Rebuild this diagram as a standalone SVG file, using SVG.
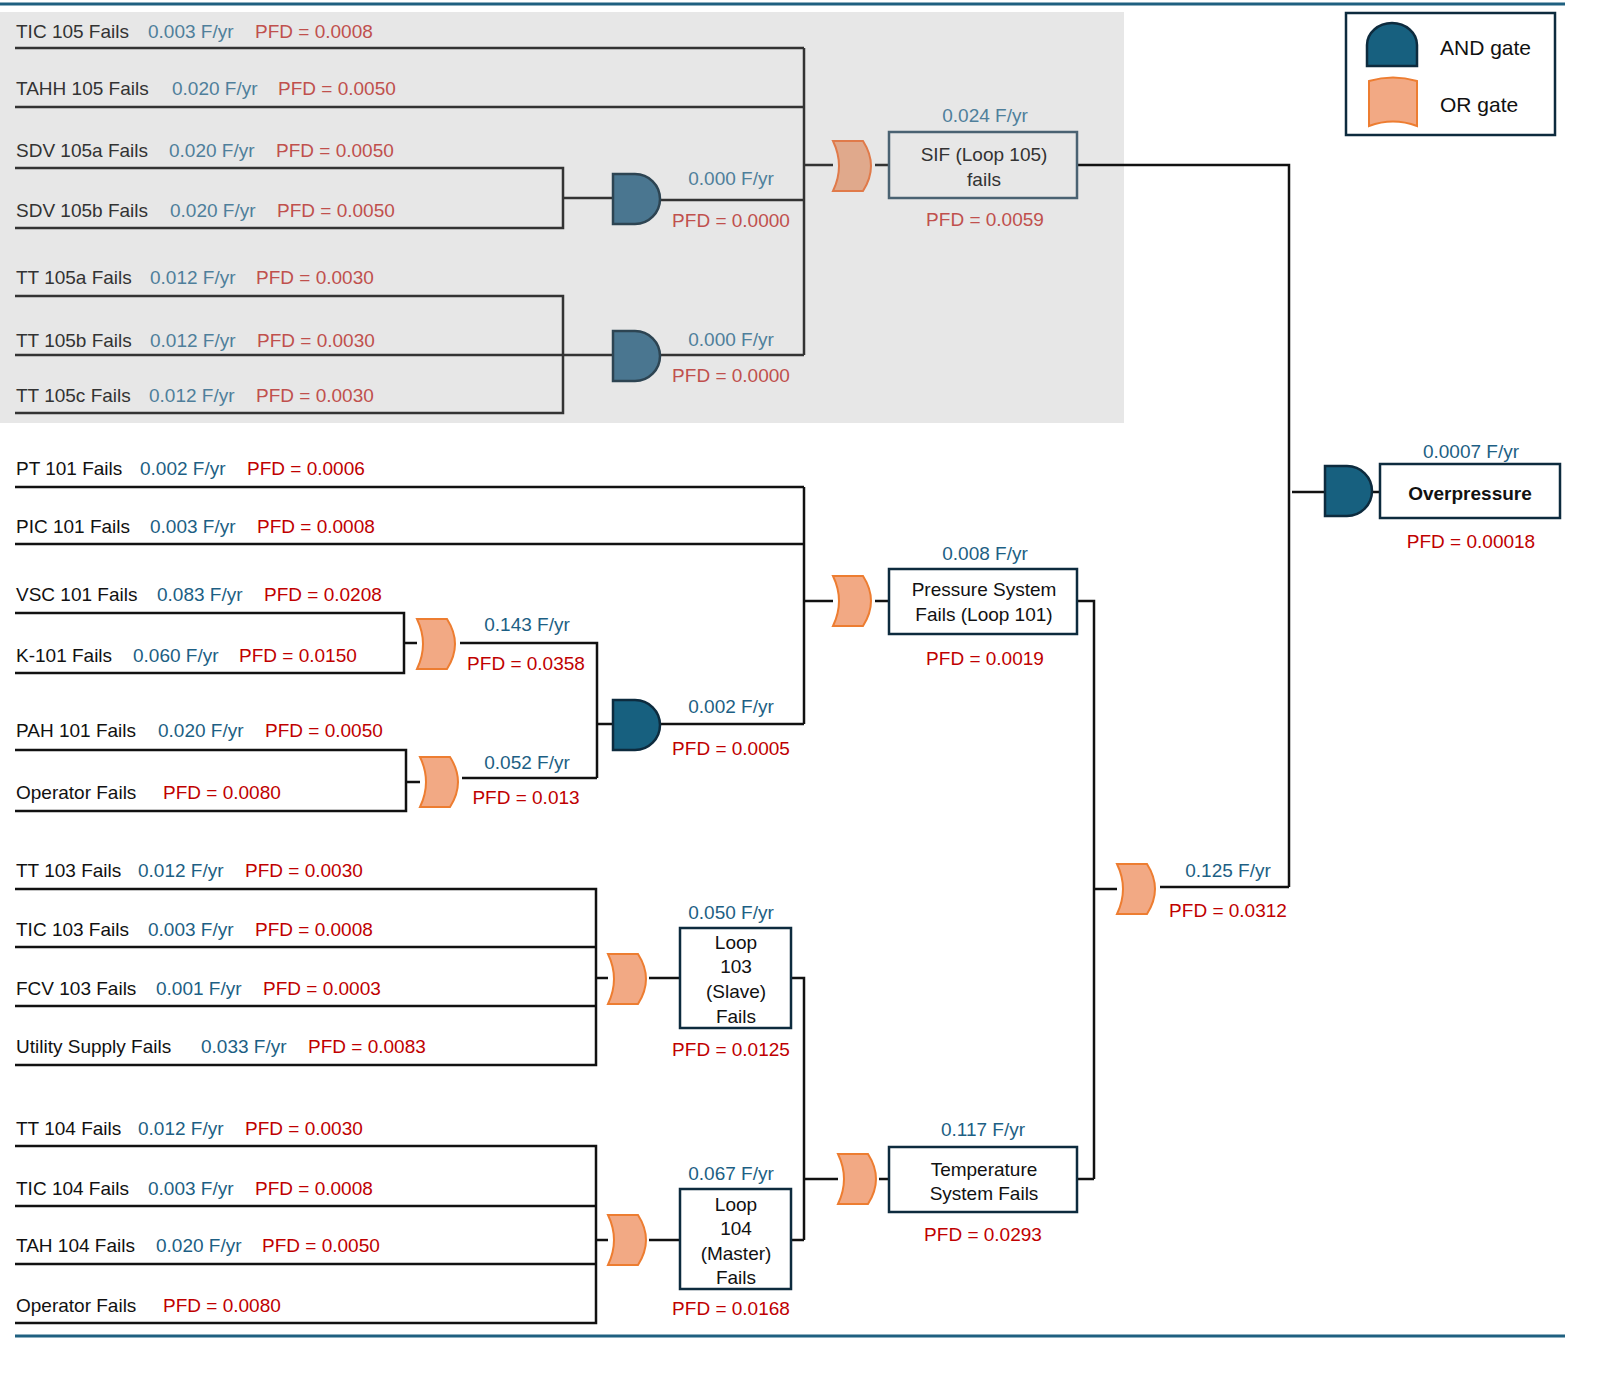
<svg xmlns="http://www.w3.org/2000/svg" width="1600" height="1374" viewBox="0 0 1600 1374">
<style>
text{font-family:"Liberation Sans",Arial,sans-serif;font-size:19px}
.n{fill:#111}.b{fill:#1d5f84}.r{fill:#c00000}
.gn{fill:#333}.gb{fill:#4f7f9b}.gr{fill:#c0504d}
.m{text-anchor:middle}
.w{stroke:#111;stroke-width:2.5;fill:none}
.gw{stroke:#333;stroke-width:2.5;fill:none}
.box{fill:#fff;stroke:#0d2b3e;stroke-width:2.5}
.gbox{fill:none;stroke:#4a6272;stroke-width:2.5}
.and{fill:#17607f;stroke:#0d2b3e;stroke-width:2.5}
.gand{fill:#4a7690;stroke:#2d4452;stroke-width:2.5}
.or{fill:#f2a984;stroke:#ed7d31;stroke-width:2}
.gor{fill:#e0a98c;stroke:#e07a4a;stroke-width:2}
</style>
<defs>
<path id="AND" d="M0,0 H22 A25,25 0 0 1 22,50 H0 Z"/>
<path id="OR" d="M0,0 H30 Q46,25 30,50 H0 Q12,25 0,0 Z"/>
</defs>
<rect x="0" y="12" width="1124" height="411" fill="#e7e7e7"/>
<line x1="0" y1="4" x2="1565" y2="4" stroke="#1f6080" stroke-width="3"/>
<line x1="15" y1="1336" x2="1565" y2="1336" stroke="#1f6080" stroke-width="3"/>
<g id="connectors">
<path class="gw" d="M15,48H804M15,107H804M15,168H563V228H15M563,198H613M660,200H804M15,296H563V413H15M15,355H613M660,355H804M804,48V355M804,165H833M875,165H889"/>
<path class="w" d="M1077,165H1289V887M1160,887H1289M1292,492H1325M1370,492H1380"/>
<path class="w" d="M15,487H804M15,544H804M804,487V724M804,601H833M875,601H889M1077,601H1094V1179M1094,889H1117M15,613H404V673H15M404,643H417M460,643H597V778M597,724H613M660,724H804M15,750H406V811H15M406,782H420M462,778H597"/>
<path class="w" d="M15,889H596V1065H15M15,947H596M15,1006H596M596,978H608M649,978H680M791,978H804V1240M15,1146H596V1323H15M15,1206H596M15,1264H596M596,1240H608M649,1240H680M791,1240H804M804,1179H838M879,1179H889M1077,1179H1094"/>
</g>
<g id="legend">
<rect x="1346" y="13" width="209" height="122" fill="#fff" stroke="#0d2b3e" stroke-width="2.5"/>
<path class="and" d="M1367,66V45A25,22 0 0 1 1417,45V66Z"/>
<path class="or" d="M1369,81Q1393,74 1417,81V126Q1393,117 1369,126Z"/>
<text x="1440" y="55" style="font-size:21px" class="n">AND gate</text>
<text x="1440" y="112" style="font-size:21px" class="n">OR gate</text>
</g>
<g id="events-top">
<text x="16" y="38"><tspan class="gn">TIC 105 Fails</tspan><tspan x="148" class="gb">0.003 F/yr</tspan><tspan x="255" class="gr">PFD = 0.0008</tspan></text>
<text x="16" y="95"><tspan class="gn">TAHH 105 Fails</tspan><tspan x="172" class="gb">0.020 F/yr</tspan><tspan x="278" class="gr">PFD = 0.0050</tspan></text>
<text x="16" y="157"><tspan class="gn">SDV 105a Fails</tspan><tspan x="169" class="gb">0.020 F/yr</tspan><tspan x="276" class="gr">PFD = 0.0050</tspan></text>
<text x="16" y="217"><tspan class="gn">SDV 105b Fails</tspan><tspan x="170" class="gb">0.020 F/yr</tspan><tspan x="277" class="gr">PFD = 0.0050</tspan></text>
<text x="16" y="284"><tspan class="gn">TT 105a Fails</tspan><tspan x="150" class="gb">0.012 F/yr</tspan><tspan x="256" class="gr">PFD = 0.0030</tspan></text>
<text x="16" y="347"><tspan class="gn">TT 105b Fails</tspan><tspan x="150" class="gb">0.012 F/yr</tspan><tspan x="257" class="gr">PFD = 0.0030</tspan></text>
<text x="16" y="402"><tspan class="gn">TT 105c Fails</tspan><tspan x="149" class="gb">0.012 F/yr</tspan><tspan x="256" class="gr">PFD = 0.0030</tspan></text>
</g>
<g id="and-sdv"><use href="#AND" x="613" y="174" class="gand"/><text x="731" y="185" class="gb m">0.000 F/yr</text><text x="731" y="227" class="gr m">PFD = 0.0000</text></g>
<g id="and-tt"><use href="#AND" x="613" y="331" class="gand"/><text x="731" y="346" class="gb m">0.000 F/yr</text><text x="731" y="382" class="gr m">PFD = 0.0000</text></g>
<g id="sif"><use href="#OR" x="833" y="141" class="gor"/><rect x="889" y="132" width="188" height="66" class="gbox"/>
<text x="985" y="122" class="gb m">0.024 F/yr</text><text x="984" y="161" class="gn m">SIF (Loop 105)</text><text x="984" y="186" class="gn m">fails</text><text x="985" y="226" class="gr m">PFD = 0.0059</text></g>
<g id="overpressure"><use href="#AND" x="1325" y="466" class="and"/><rect x="1380" y="464" width="180" height="54" class="box"/>
<text x="1471" y="458" class="b m">0.0007 F/yr</text><text x="1470" y="500" class="n m" font-weight="bold">Overpressure</text><text x="1471" y="548" class="r m">PFD = 0.00018</text></g>
<g id="events-mid">
<text x="16" y="475"><tspan class="n">PT 101 Fails</tspan><tspan x="140" class="b">0.002 F/yr</tspan><tspan x="247" class="r">PFD = 0.0006</tspan></text>
<text x="16" y="533"><tspan class="n">PIC 101 Fails</tspan><tspan x="150" class="b">0.003 F/yr</tspan><tspan x="257" class="r">PFD = 0.0008</tspan></text>
<text x="16" y="601"><tspan class="n">VSC 101 Fails</tspan><tspan x="157" class="b">0.083 F/yr</tspan><tspan x="264" class="r">PFD = 0.0208</tspan></text>
<text x="16" y="662"><tspan class="n">K-101 Fails</tspan><tspan x="133" class="b">0.060 F/yr</tspan><tspan x="239" class="r">PFD = 0.0150</tspan></text>
<text x="16" y="737"><tspan class="n">PAH 101 Fails</tspan><tspan x="158" class="b">0.020 F/yr</tspan><tspan x="265" class="r">PFD = 0.0050</tspan></text>
<text x="16" y="799"><tspan class="n">Operator Fails</tspan><tspan x="163" class="r">PFD = 0.0080</tspan></text>
</g>
<g id="or-vsc"><use href="#OR" x="417" y="619" class="or"/><text x="527" y="631" class="b m">0.143 F/yr</text><text x="526" y="670" class="r m">PFD = 0.0358</text></g>
<g id="or-pah"><use href="#OR" x="420" y="757" class="or"/><text x="527" y="769" class="b m">0.052 F/yr</text><text x="526" y="804" class="r m">PFD = 0.013</text></g>
<g id="and-mid"><use href="#AND" x="613" y="700" class="and"/><text x="731" y="713" class="b m">0.002 F/yr</text><text x="731" y="755" class="r m">PFD = 0.0005</text></g>
<g id="pressure"><use href="#OR" x="833" y="576" class="or"/><rect x="889" y="569" width="188" height="65" class="box"/>
<text x="985" y="560" class="b m">0.008 F/yr</text><text x="984" y="596" class="n m">Pressure System</text><text x="984" y="621" class="n m">Fails (Loop 101)</text><text x="985" y="665" class="r m">PFD = 0.0019</text></g>
<g id="or-top"><use href="#OR" x="1117" y="864" class="or"/><text x="1228" y="877" class="b m">0.125 F/yr</text><text x="1228" y="917" class="r m">PFD = 0.0312</text></g>
<g id="events-low">
<text x="16" y="877"><tspan class="n">TT 103 Fails</tspan><tspan x="138" class="b">0.012 F/yr</tspan><tspan x="245" class="r">PFD = 0.0030</tspan></text>
<text x="16" y="936"><tspan class="n">TIC 103 Fails</tspan><tspan x="148" class="b">0.003 F/yr</tspan><tspan x="255" class="r">PFD = 0.0008</tspan></text>
<text x="16" y="995"><tspan class="n">FCV 103 Fails</tspan><tspan x="156" class="b">0.001 F/yr</tspan><tspan x="263" class="r">PFD = 0.0003</tspan></text>
<text x="16" y="1053"><tspan class="n">Utility Supply Fails</tspan><tspan x="201" class="b">0.033 F/yr</tspan><tspan x="308" class="r">PFD = 0.0083</tspan></text>
<text x="16" y="1135"><tspan class="n">TT 104 Fails</tspan><tspan x="138" class="b">0.012 F/yr</tspan><tspan x="245" class="r">PFD = 0.0030</tspan></text>
<text x="16" y="1195"><tspan class="n">TIC 104 Fails</tspan><tspan x="148" class="b">0.003 F/yr</tspan><tspan x="255" class="r">PFD = 0.0008</tspan></text>
<text x="16" y="1252"><tspan class="n">TAH 104 Fails</tspan><tspan x="156" class="b">0.020 F/yr</tspan><tspan x="262" class="r">PFD = 0.0050</tspan></text>
<text x="16" y="1312"><tspan class="n">Operator Fails</tspan><tspan x="163" class="r">PFD = 0.0080</tspan></text>
</g>
<g id="loop103"><use href="#OR" x="608" y="954" class="or"/><rect x="680" y="928" width="111" height="100" class="box"/>
<text x="731" y="919" class="b m">0.050 F/yr</text><text x="736" y="949" class="n m">Loop</text><text x="736" y="973" class="n m">103</text><text x="736" y="998" class="n m">(Slave)</text><text x="736" y="1023" class="n m">Fails</text><text x="731" y="1056" class="r m">PFD = 0.0125</text></g>
<g id="loop104"><use href="#OR" x="608" y="1215" class="or"/><rect x="680" y="1189" width="111" height="100" class="box"/>
<text x="731" y="1180" class="b m">0.067 F/yr</text><text x="736" y="1211" class="n m">Loop</text><text x="736" y="1235" class="n m">104</text><text x="736" y="1260" class="n m">(Master)</text><text x="736" y="1284" class="n m">Fails</text><text x="731" y="1315" class="r m">PFD = 0.0168</text></g>
<g id="temperature"><use href="#OR" x="838" y="1154" class="or"/><rect x="889" y="1147" width="188" height="65" class="box"/>
<text x="983" y="1136" class="b m">0.117 F/yr</text><text x="984" y="1176" class="n m">Temperature</text><text x="984" y="1200" class="n m">System Fails</text><text x="983" y="1241" class="r m">PFD = 0.0293</text></g>
</svg>
